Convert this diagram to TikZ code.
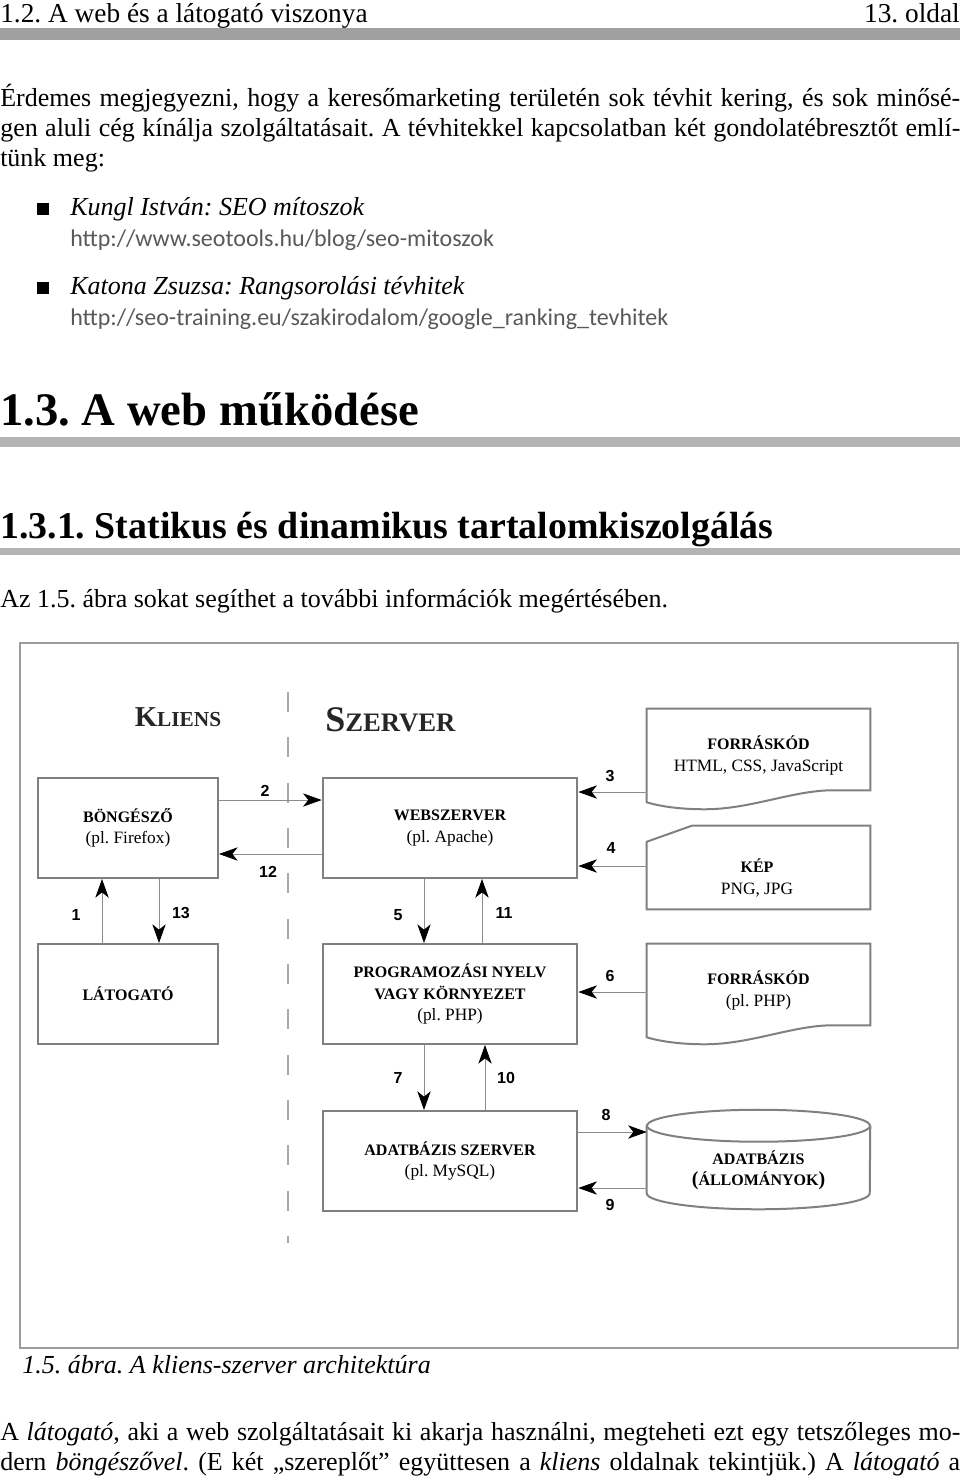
\documentclass[tikz,border=0pt]{standalone}
\usepackage{fontspec}
\setmainfont{Liberation Serif}
\newfontfamily\urlfont{Carlito}
\newfontfamily\numfont{Liberation Sans}
\usetikzlibrary{positioning, arrows.meta, calc}
\definecolor{rulegray}{HTML}{A0A0A0}
\definecolor{headrule}{HTML}{B4B4B4}
\definecolor{boxgray}{HTML}{808080}
\definecolor{linegray}{HTML}{8C8C8C}
\definecolor{urlgray}{HTML}{595959}
\definecolor{framegray}{HTML}{9C9C9C}
\definecolor{dashgray}{HTML}{A8A8A8}
\newcommand{\txtbody}{\fontsize{19.5}{23}\selectfont}
\newcommand{\lblfont}{\fontsize{12}{16}\selectfont\bfseries}
\newcommand{\subfont}{\fontsize{13}{16}\selectfont\mdseries}
\frenchspacing

\begin{document}
\begin{tikzpicture}[
  x=0.75pt, y=-0.75pt,
  textline/.style={anchor=base west, inner sep=0pt, font=\txtbody},
  box/.style={draw=boxgray, line width=1.5pt, inner sep=0pt, align=center, font=\lblfont},
  lcol/.style={box, minimum width=135pt, minimum height=75pt},
  mcol/.style={box, minimum width=191pt, minimum height=75pt},
  rcol/.style={inner sep=0pt, align=center, font=\lblfont, minimum width=167.25pt},
  docline/.style={draw=boxgray, line width=1.5pt, line join=miter},
  flow/.style={draw=linegray, line width=0.6pt, -{Stealth[length=14pt, width=10pt, inset=4pt, color=black]}},
  num/.style={font=\numfont\fontsize{12}{14}\selectfont\bfseries},
]
\path[fill=white] (0,0) rectangle (960,1479);

% Header
\node[textline, font=\fontsize{20.5}{24}\selectfont] (hleft) at (0,22) {1.2. A web és a látogató viszonya};
\node[anchor=base east, inner sep=0pt, font=\fontsize{20.5}{24}\selectfont] (hright) at (960,22) {13. oldal};
\fill[rulegray] (0,28) rectangle (960,40);

% Intro paragraph
\node[textline] (p1) at (0,106) {\makebox[720pt][s]{Érdemes megjegyezni, hogy a keresőmarketing területén sok tévhit kering, és sok minősé-}};
\node[textline] (p2) at (0,136) {\makebox[720pt][s]{gen aluli cég kínálja szolgáltatásait. A tévhitekkel kapcsolatban két gondolatébresztőt emlí-}};
\node[textline] (p3) at (0,166) {tünk meg:};

% Bullet list
\fill (37,203) rectangle (49,215);
\node[textline, font=\txtbody\itshape] (it1) at (70,215) {Kungl István: SEO mítoszok};
\node[textline, font=\urlfont\fontsize{18}{20}\selectfont, text=urlgray] (url1) at (70,246) {http://www.seotools.hu/blog/seo-mitoszok};
\fill (37,282) rectangle (49,294);
\node[textline, font=\txtbody\itshape] (it2) at (70,294) {Katona Zsuzsa: Rangsorolási tévhitek};
\node[textline, font=\urlfont\fontsize{18}{20}\selectfont, text=urlgray] (url2) at (70,325) {http://seo-training.eu/szakirodalom/google\_ranking\_tevhitek};

% Headings
\node[textline, font=\fontsize{35}{40}\selectfont\bfseries] (sec) at (0,425) {1.3. A web működése};
\fill[headrule] (0,437) rectangle (960,447);
\node[textline, font=\fontsize{28.4}{32}\selectfont\bfseries] (subsec) at (0,538) {1.3.1. Statikus és dinamikus tartalomkiszolgálás};
\fill[headrule] (0,548) rectangle (960,555);
\node[textline] (intro) at (0,607) {Az 1.5. ábra sokat segíthet a további információk megértésében.};

% Figure frame and divider
\draw[framegray, line width=1.2pt] (20,643) rectangle (958,1348);
\draw[dashgray, line width=0.8pt, dash pattern=on 15pt off 19pt] (288,692) -- (288,1243);
\node[anchor=base, inner sep=0pt, font=\bfseries, text=black!85] (client) at (178,726)
  {{\fontsize{21.6}{24}\selectfont K}{\fontsize{16}{18}\selectfont LIENS}};
\node[anchor=base west, inner sep=0pt, font=\bfseries, text=black!85] (server) at (325,731)
  {{\fontsize{27}{30}\selectfont S}{\fontsize{20}{24}\selectfont ZERVER}};

% Boxes
\node[lcol] (brow) at (128,828) {BÖNGÉSZŐ\\{\subfont (pl. Firefox)}};
\node[mcol] (web) at (450,828) {WEBSZERVER\\{\subfont (pl. Apache)}};
\node[lcol] (visit) at (128,994) {LÁTOGATÓ};
\node[mcol] (prog) at (450,994) {PROGRAMOZÁSI NYELV\\VAGY KÖRNYEZET\\{\subfont (pl. PHP)}};
\node[mcol] (dbsrv) at (450,1161) {ADATBÁZIS SZERVER\\{\subfont (pl. MySQL)}};

% Right column
\node[rcol, minimum height=69.75pt] (src1) at (758.5,755.5) {FORRÁSKÓD\\{\subfont HTML, CSS, JavaScript}};
\node[rcol, minimum height=62.25pt] (img) at (758.5,867.5) {};
\node[rcol] (imgtxt) at (757,878) {KÉP\\{\subfont PNG, JPG}};
\node[rcol, minimum height=69.75pt] (src2) at (758.5,990.5) {FORRÁSKÓD\\{\subfont (pl. PHP)}};
\node[rcol, minimum height=74.25pt] (db) at (758.5,1159.5) {};
\node[rcol] (dbtxt) at (758.5,1170)
  {ADATBÁZIS\\{\fontsize{15}{16}\selectfont(}ÁLLOMÁNYOK{\fontsize{15}{16}\selectfont)}};

\foreach \d in {src1,src2} {
  \draw[docline] (\d.north west) -- (\d.north east) -- ([yshift=9pt]\d.south east) -- ++(-40,0)
    .. controls +(-40,1) and +(45,0) .. ($(\d.south west)+(58,7)$)
    .. controls +(-25,0) and +(13,4) .. (\d.south west) -- cycle;
}
\draw[docline] ($(img.north west)+(0,16)$) -- ($(img.north west)+(45,0)$) -- (img.north east)
  -- (img.south east) -- (img.south west) -- cycle;
\draw[docline] ([yshift=-12pt]db.north west) -- ([yshift=12pt]db.south west)
  arc[start angle=180, end angle=360, x radius=83.625pt, y radius=12pt] -- ([yshift=-12pt]db.north east);
\draw[docline] ([yshift=-12pt]db.north) ellipse [x radius=83.625pt, y radius=12pt];

% Connectors
\draw[flow] ($(visit.north)+(-26,0)$) -- ($(brow.south)+(-26,0)$);
\draw[flow] ($(brow.east)+(0,-28)$) -- ($(web.west)+(0,-28)$);
\draw[flow] ($(src1.west)+(0,36.5)$) -- ($(web.east)+(0,-36)$);
\draw[flow] ($(img.west)+(0,-1.5)$) -- ($(web.east)+(0,38)$);
\draw[flow] ($(web.south)+(-26,0)$) -- ($(prog.north)+(-26,0)$);
\draw[flow] ($(src2.west)+(0,1.5)$) -- ($(prog.east)+(0,-2)$);
\draw[flow] ($(prog.south)+(-26,0)$) -- ($(dbsrv.north)+(-26,0)$);
\draw[flow] ($(dbsrv.east)+(0,-29)$) -- ($(db.west)+(0,-27.5)$);
\draw[flow] ($(db.west)+(0,28.5)$) -- ($(dbsrv.east)+(0,27)$);
\draw[flow] ($(dbsrv.north)+(35,0)$) -- ($(prog.south)+(35,0)$);
\draw[flow] ($(prog.north)+(32,0)$) -- ($(web.south)+(32,0)$);
\draw[flow] ($(web.west)+(0,26)$) -- ($(brow.east)+(0,26)$);
\draw[flow] ($(brow.south)+(31,0)$) -- ($(visit.north)+(31,0)$);

% Step numbers
\foreach \n/\px/\py in {1/76/915, 2/265/791, 3/610/776, 4/611/848, 5/398/915, 6/610/976,
  7/398/1078, 8/606/1115, 9/610/1205, 10/506/1078, 11/504/913, 12/268/872, 13/181/913}
  \node[num] (lbl\n) at (\px,\py) {\n};

% Caption and text
\node[textline, font=\txtbody\itshape] (cap) at (22,1373) {1.5. ábra. A kliens-szerver architektúra};
\node[textline] (q1) at (0,1440) {\makebox[720pt][s]{A \textit{látogató}, aki a web szolgáltatásait ki akarja használni, megteheti ezt egy tetszőleges mo-}};
\node[textline] (q2) at (0,1470) {\makebox[720pt][s]{dern \textit{böngészővel}. (E két „szereplőt” együttesen a \textit{kliens} oldalnak tekintjük.) A \textit{látogató} a}};
\end{tikzpicture}
\end{document}
